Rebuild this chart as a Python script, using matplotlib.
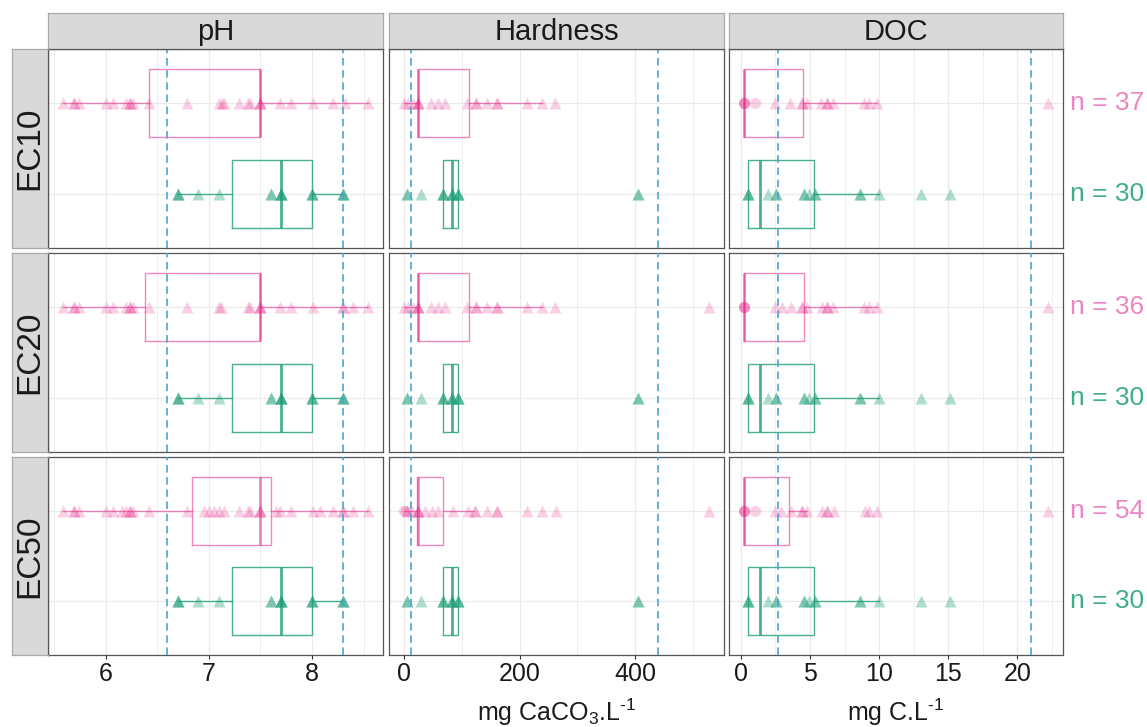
import matplotlib.pyplot as plt
import numpy as np

plt.rcParams['font.family'] = ['Liberation Sans', 'DejaVu Sans']
plt.rcParams['mathtext.fontset'] = 'custom'
plt.rcParams['mathtext.rm'] = 'Liberation Sans'
plt.rcParams['mathtext.it'] = 'Liberation Sans:italic'

rows = ['EC10', 'EC20', 'EC50']
cols = ['pH', 'Hardness', 'DOC']
xlabels = ['', r'mg CaCO$_3$.L$^{\text{-}1}$', r'mg C.L$^{\text{-}1}$']
n_pink = [37, 36, 54]
n_green = [30, 30, 30]

# reference lines (dashed blue) per variable
ref_lines = {'pH': [6.6, 8.3], 'Hardness': [11, 440], 'DOC': [2.7, 21]}

major_ticks = {'pH': [6, 7, 8], 'Hardness': [0, 200, 400], 'DOC': [0, 5, 10, 15, 20]}
minor_ticks = {'pH': [5.5, 6.5, 7.5, 8.5], 'Hardness': [100, 300, 500],
               'DOC': [2.5, 7.5, 12.5, 17.5, 22.5]}

# box stats: q1, median, q3, whisker low, whisker high
# --- pH ---
ph_green = [6.7, 6.7, 6.7, 6.9, 7.1, 7.6, 7.6, 7.7, 7.7, 7.7, 7.7,
            8.0, 8.0, 8.0, 8.3, 8.3, 8.3]
ph_green_box = [7.22, 7.70, 8.0, 6.7, 8.3]
ph_ec10 = [5.59, 5.69, 5.69, 5.74, 6.0, 6.07, 6.2, 6.24, 6.24, 6.27, 6.42, 6.79, 7.1, 7.13,
           7.15, 7.29, 7.38, 7.4, 7.5, 7.5, 7.5, 7.69, 7.8, 8.01, 8.2, 8.32, 8.54]
ph_ec10_box = [6.42, 7.5, 7.5, 5.59, 8.54]
ph_ec20 = [5.59, 5.69, 5.69, 5.74, 6.0, 6.07, 6.2, 6.24, 6.24, 6.27, 6.42, 6.79, 7.1, 7.12,
           7.38, 7.4, 7.5, 7.5, 7.5, 7.69, 7.8, 8.01, 8.3, 8.3, 8.4, 8.54]
ph_ec20_box = [6.38, 7.5, 7.5, 5.59, 8.54]
ph_ec50 = [5.59, 5.69, 5.69, 5.74, 6.0, 6.07, 6.16, 6.2, 6.24, 6.24, 6.27, 6.42, 6.79, 6.95,
           7.0, 7.05, 7.1, 7.15, 7.29, 7.38, 7.4, 7.5, 7.5, 7.5, 7.65, 7.69, 7.8,
           8.01, 8.08, 8.2, 8.3, 8.3, 8.4, 8.54]
ph_ec50_box = [6.84, 7.5, 7.6, 5.59, 8.54]

# --- Hardness ---
hd_green = [4, 4, 29, 68, 68, 68, 82.6, 82.6, 82.6, 92.4, 92.4, 92.4, 405, 405]
hd_green_box = [68, 82.6, 92.4, 68, 92.4]
hd_ec10 = [0, 7, 16, 24.6, 24.6, 24.6, 46.6, 59, 70, 108.7, 124, 124, 143, 161, 161,
           213, 238, 262]
hd_ec10_box = [24.6, 24.6, 111.5, 0, 238]
hd_ec20 = [0, 7, 16, 24.6, 24.6, 24.6, 46.6, 59, 70, 108.7, 124, 124, 143, 161, 161,
           213, 238, 262, 528]
hd_ec20_box = [24.6, 24.6, 111.5, 0, 238]
hd_ec50 = [4, 13, 24.6, 24.6, 24.6, 36, 48, 59, 85, 111, 123, 123, 143, 161, 161,
           213, 238, 263, 528]
hd_ec50_circ = [0, 3]
hd_ec50_box = [22.8, 24, 68, 0, 120]

# --- DOC ---
doc_green = [0.55, 0.55, 0.55, 1.96, 2.54, 2.54, 4.54, 4.54, 4.9, 5.38, 5.38,
             8.64, 8.64, 10.0, 13.0, 15.1]
doc_green_box = [0.55, 1.35, 5.26, 0.55, 10.0]
doc_ec10 = [2.44, 3.57, 4.42, 4.42, 4.78, 5.82, 6.23, 6.23, 6.64, 8.89, 9.3, 9.85, 22.2]
doc_ec10_circ = [0.24, 0.24, 0.24, 0.99]
doc_ec10_box = [0.24, 0.24, 4.49, 0.24, 9.85]
doc_ec20 = [2.44, 2.97, 3.6, 4.4, 4.4, 4.75, 5.87, 6.23, 6.23, 6.64, 8.89, 9.3, 9.85, 22.2]
doc_ec20_circ = [0.26, 0.26, 0.26]
doc_ec20_box = [0.26, 0.26, 4.54, 0.26, 9.85]
doc_ec50 = [2.44, 2.9, 3.6, 4.4, 4.4, 4.78, 5.87, 6.23, 6.23, 6.7, 8.96, 9.3, 9.85, 22.2]
doc_ec50_circ = [0.24, 0.24, 0.24, 0.99]
doc_ec50_box = [0.24, 0.24, 3.45, 0.24, 4.78]

panels = {
    ('EC10', 'pH'): (ph_ec10, [], ph_ec10_box, ph_green, ph_green_box),
    ('EC20', 'pH'): (ph_ec20, [], ph_ec20_box, ph_green, ph_green_box),
    ('EC50', 'pH'): (ph_ec50, [], ph_ec50_box, ph_green, ph_green_box),
    ('EC10', 'Hardness'): (hd_ec10, [], hd_ec10_box, hd_green, hd_green_box),
    ('EC20', 'Hardness'): (hd_ec20, [], hd_ec20_box, hd_green, hd_green_box),
    ('EC50', 'Hardness'): (hd_ec50, hd_ec50_circ, hd_ec50_box, hd_green, hd_green_box),
    ('EC10', 'DOC'): (doc_ec10, doc_ec10_circ, doc_ec10_box, doc_green, doc_green_box),
    ('EC20', 'DOC'): (doc_ec20, doc_ec20_circ, doc_ec20_box, doc_green, doc_green_box),
    ('EC50', 'DOC'): (doc_ec50, doc_ec50_circ, doc_ec50_box, doc_green, doc_green_box),
}

pink = '#E7298A'
green = '#1B9E77'
pink_txt = '#EA86C2'
green_txt = '#3FAD8B'
blue = '#4BA3D3'

W, H = 1147, 727
fig = plt.figure(figsize=(W / 100, H / 100), dpi=100)


def px_axes(x0, y0, x1, y1):
    return fig.add_axes([x0 / W, 1 - y1 / H, (x1 - x0) / W, (y1 - y0) / H])


col_x = [(48, 383), (389, 724), (729, 1063)]
row_y = [(49, 248), (253, 452), (457, 655)]

# x limits with ggplot-like 5% expansion over each column's data
xlims = {}
for c in cols:
    allv = []
    for r in rows:
        p = panels[(r, c)]
        allv += list(p[0]) + list(p[1]) + list(p[3])
    lo, hi = min(allv), max(allv)
    pad = 0.05 * (hi - lo)
    xlims[c] = (lo - pad, hi + pad)


def draw_box(ax, st, y, color, alpha):
    q1, med, q3, lo, hi = st
    stats = [dict(q1=q1, med=med, q3=q3, whislo=lo, whishi=hi, fliers=[])]
    ax.bxp(stats, positions=[y], orientation='horizontal', widths=0.75,
           showfliers=False, showcaps=False, manage_ticks=False,
           boxprops=dict(color=color, lw=1.0, alpha=alpha),
           whiskerprops=dict(color=color, lw=1.0, alpha=alpha),
           medianprops=dict(color=color, lw=2.0, alpha=alpha))


for i, r in enumerate(rows):
    for j, c in enumerate(cols):
        x0, x1 = col_x[j]
        y0, y1 = row_y[i]
        ax = px_axes(x0, y0, x1, y1)
        pk, pk_c, pk_box, gr, gr_box = panels[(r, c)]

        ax.set_xlim(*xlims[c])
        ax.set_ylim(0.4, 2.6)
        ax.set_xticks(major_ticks[c])
        ax.set_xticks(minor_ticks[c], minor=True)
        ax.set_yticks([1, 2])
        ax.grid(True, which='major', color='#EBEBEB', lw=0.9)
        ax.grid(True, which='minor', axis='x', color='#EBEBEB', lw=0.6)
        ax.set_axisbelow(True)
        for s in ax.spines.values():
            s.set_color('#555555')
            s.set_linewidth(0.9)
        ax.tick_params(axis='y', left=False, labelleft=False)
        ax.tick_params(axis='x', which='minor', bottom=False)
        if i == 2:
            ax.tick_params(axis='x', which='major', length=3, width=0.8, color='#333333',
                           labelsize=18, labelcolor='#1a1a1a', pad=2)
            ax.set_xlabel(xlabels[j], fontsize=18, color='#1a1a1a', labelpad=8)
        else:
            ax.tick_params(axis='x', which='major', bottom=False, labelbottom=False)

        draw_box(ax, pk_box, 2, pink, 0.55)
        draw_box(ax, gr_box, 1, green, 0.8)

        for v in ref_lines[c]:
            ax.axvline(v, color=blue, lw=1.2, linestyle=(0, (4.5, 2.8)), zorder=5)

        ax.plot(pk, [2] * len(pk), linestyle='none', marker='^', ms=9,
                color=pink, alpha=0.22, mec='none', zorder=4)
        if len(pk_c):
            ax.plot(pk_c, [2] * len(pk_c), linestyle='none', marker='o', ms=8,
                    color=pink, alpha=0.22, mec='none', zorder=4)
        ax.plot(gr, [1] * len(gr), linestyle='none', marker='^', ms=9,
                color=green, alpha=0.35, mec='none', zorder=4)

        if j == 2:
            ax.text(1.02, 2, 'n = %d' % n_pink[i], transform=ax.get_yaxis_transform(),
                    color=pink_txt, fontsize=19, va='center', ha='left')
            ax.text(1.02, 1, 'n = %d' % n_green[i], transform=ax.get_yaxis_transform(),
                    color=green_txt, fontsize=19, va='center', ha='left')

# top strips
for j, c in enumerate(cols):
    x0, x1 = col_x[j]
    sax = px_axes(x0, 13, x1, 49)
    sax.set_facecolor('#D9D9D9')
    sax.set_xticks([])
    sax.set_yticks([])
    for s in sax.spines.values():
        s.set_color('#AAAAAA')
        s.set_linewidth(0.9)
    sax.spines['bottom'].set_color('#555555')
    sax.text(0.5, 0.47, c, ha='center', va='center', fontsize=21, color='#1a1a1a',
             transform=sax.transAxes)

# left strips
for i, r in enumerate(rows):
    y0, y1 = row_y[i]
    sax = px_axes(12, y0, 48, y1)
    sax.set_facecolor('#D9D9D9')
    sax.set_xticks([])
    sax.set_yticks([])
    for s in sax.spines.values():
        s.set_color('#AAAAAA')
        s.set_linewidth(0.9)
    sax.spines['right'].set_color('#555555')
    sax.text(0.5, 0.5, r, ha='center', va='center', rotation=90, fontsize=24,
             color='#1a1a1a', transform=sax.transAxes)

fig.savefig('out.png', dpi=100)
